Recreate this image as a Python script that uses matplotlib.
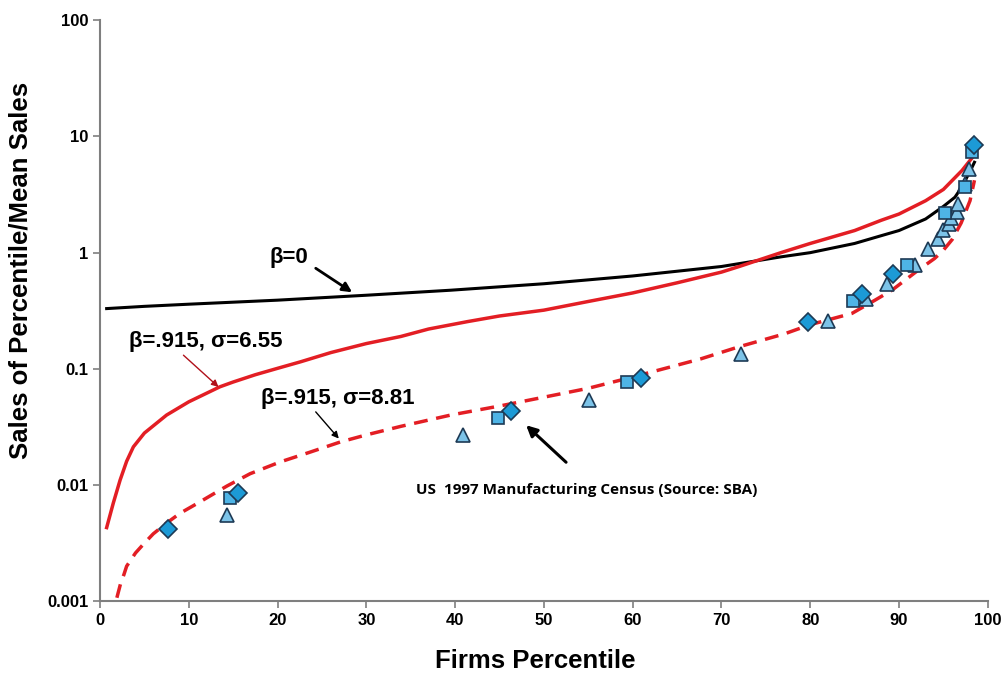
import matplotlib.pyplot as plt

# --- data ---
# beta=0 curve (black)
black_x = [0.75, 5, 10, 20, 30, 39.5, 50, 60, 70, 76.7, 80, 85, 88, 90, 93, 95, 96.3, 97, 98, 98.5]
black_y = [0.33, 0.345, 0.36, 0.39, 0.43, 0.475, 0.54, 0.63, 0.76, 0.92, 1.0, 1.2, 1.4, 1.55,
           1.95, 2.5, 3.0, 3.6, 5.0, 6.0]

# beta=.915, sigma=6.55 (red solid)
red_x = [0.75, 1.5, 2.26, 3, 3.76, 5, 7.5, 10, 13.5, 15, 17.5, 20, 22.6, 26, 30, 33.9, 37,
         41.4, 45, 50, 55, 60, 65, 70, 72, 76.7, 80, 85, 88, 90, 93, 95, 97.1, 98.2]
red_y = [0.0043, 0.0070, 0.011, 0.016, 0.0213, 0.028, 0.040, 0.052, 0.070, 0.077, 0.089, 0.101,
         0.115, 0.138, 0.165, 0.19, 0.22, 0.255, 0.285, 0.32, 0.38, 0.45, 0.55, 0.68, 0.76,
         1.0, 1.2, 1.55, 1.9, 2.15, 2.8, 3.5, 5.1, 6.5]

# beta=.915, sigma=8.81 (red dashed)
dash_x = [1.9, 2.3, 2.7, 3.0, 4.0, 4.9, 6.0, 7.5, 9.0, 10.9, 14.3, 16.9, 20.3, 23.5, 27.1, 30,
          33.9, 39.5, 45.1, 50, 55, 60, 67.7, 72, 77.1, 80, 84.7, 87.3, 89.2, 92.2, 94, 95, 96,
          97, 98, 98.5]
dash_y = [0.00107, 0.0014, 0.0017, 0.0020, 0.0026, 0.0031, 0.0038, 0.0047, 0.0057, 0.0069,
          0.0098, 0.0125, 0.0158, 0.019, 0.0235, 0.027, 0.032, 0.040, 0.048, 0.057, 0.068,
          0.085, 0.122, 0.155, 0.20, 0.24, 0.30, 0.39, 0.475, 0.71, 0.89, 1.05, 1.3, 1.8, 2.8,
          4.2]

# census points
dia_x = [7.7, 15.6, 46.3, 60.9, 79.8, 85.8, 89.3, 98.5]
dia_y = [0.0042, 0.0085, 0.0434, 0.0842, 0.253, 0.44, 0.65, 8.4]
sq_x = [14.6, 44.8, 59.4, 84.8, 90.9, 95.2, 97.4, 98.2]
sq_y = [0.0078, 0.0381, 0.077, 0.384, 0.78, 2.2, 3.7, 7.4]
tri_x = [14.3, 40.9, 55.1, 72.2, 82.0, 86.3, 88.7, 91.8, 93.3, 94.4, 95.0, 95.6, 95.9, 96.5,
         96.7, 97.4, 97.9]
tri_y = [0.0055, 0.0268, 0.0537, 0.135, 0.258, 0.40, 0.535, 0.79, 1.08, 1.32, 1.56, 1.78, 2.0,
         2.24, 2.64, 3.93, 5.3]

xticks = list(range(0, 101, 10))
yticks = [0.001, 0.01, 0.1, 1, 10, 100]
ytick_labels = ["0.001", "0.01", "0.1", "1", "10", "100"]

plt.rcParams['font.family'] = ['Liberation Sans', 'DejaVu Sans']

fig = plt.figure(figsize=(10.02, 6.77), dpi=100)
ax = fig.add_axes([0.0998, 0.112, 0.886, 0.858])

red = '#e31e24'
ax.plot(black_x, black_y, color='black', lw=2.2, zorder=3)
ax.plot(red_x, red_y, color=red, lw=2.5, zorder=3)
ax.plot(dash_x, dash_y, color=red, lw=2.5, dashes=(4, 2.5), zorder=3)

edge = '#1d3a55'
ax.plot(tri_x, tri_y, '^', ms=10, mfc='#7cc3e8', mec=edge, mew=1.2, ls='none', zorder=4)
ax.plot(sq_x, sq_y, 's', ms=9, mfc='#4eb4e6', mec=edge, mew=1.2, ls='none', zorder=5)
ax.plot(dia_x, dia_y, 'D', ms=9, mfc='#1c9ad6', mec=edge, mew=1.2, ls='none', zorder=6)

ax.set_yscale('log')
ax.set_xlim(0, 100)
ax.set_ylim(0.001, 100)
ax.set_xticks(xticks)
ax.set_yticks(yticks)
ax.set_yticklabels(ytick_labels)
ax.minorticks_off()
for s in ('top', 'right'):
    ax.spines[s].set_visible(False)
for s in ('left', 'bottom'):
    ax.spines[s].set_color('#7f7f7f')
    ax.spines[s].set_linewidth(1.5)
ax.tick_params(axis='both', colors='#7f7f7f', length=5, width=1.2, labelsize=12,
               labelcolor='black')
for lab in ax.get_xticklabels() + ax.get_yticklabels():
    lab.set_fontweight('bold')

ax.set_xlabel('Firms Percentile', fontsize=18.5, fontweight='bold', va='center')
ax.xaxis.set_label_coords(0.49, -0.103)
ax.set_ylabel('Sales of Percentile/Mean Sales', fontsize=18.5, fontweight='bold', va='center')
ax.yaxis.set_label_coords(-0.09, 0.57)

# labels
ax.text(21.3, 0.9, 'β=0', fontsize=16, fontweight='bold', ha='center', va='center')
ax.text(11.9, 0.172, 'β=.915, σ=6.55', fontsize=16, fontweight='bold', ha='center', va='center')
ax.text(26.8, 0.0555, 'β=.915, σ=8.81', fontsize=16, fontweight='bold', ha='center', va='center')
ax.text(54.8, 0.009, 'US  1997 Manufacturing Census (Source: SBA)', fontsize=11,
        fontweight='bold', family=['Open Sans', 'DejaVu Sans'], ha='center', va='center')

# arrows
def arrow(tail, tip, color, lw, size):
    ax.annotate('', xy=tip, xytext=tail,
                arrowprops=dict(arrowstyle='-|>', color=color, lw=lw, shrinkA=0, shrinkB=0,
                                mutation_scale=size))

arrow((24.3, 0.734), (28.4, 0.456), 'black', 2, 14)
arrow((9.4, 0.131), (13.35, 0.0698), '#b0101a', 1, 10)
arrow((24.3, 0.0426), (26.9, 0.0251), 'black', 1, 10)
arrow((52.5, 0.0157), (48.0, 0.0327), 'black', 2.2, 16)

fig.savefig('out.png', dpi=100)
